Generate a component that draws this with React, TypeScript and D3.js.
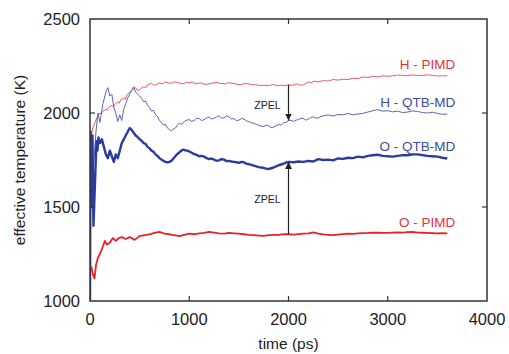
import React, { useEffect, useRef } from 'react';
import * as d3 from 'd3';

// [time (ps), effective temperature (K)]
const hPimd: [number, number][] = [
  [0, 1780], [10, 1850], [20, 1900], [35, 1930], [50, 1950], [70, 1975], [100, 2000], [115, 1995], [130, 2010],
  [160, 2020], [175, 2015], [190, 2030], [220, 2040], [235, 2032], [250, 2045], [280, 2060], [295, 2052], [310, 2070],
  [340, 2080], [355, 2072], [370, 2095], [400, 2110], [430, 2125], [460, 2135], [480, 2118], [500, 2125],
  [540, 2140], [560, 2134], [580, 2150], [620, 2158], [640, 2148], [660, 2150], [700, 2160], [730, 2155],
  [760, 2165], [790, 2160], [820, 2158], [850, 2166], [880, 2162], [910, 2158], [940, 2155], [970, 2163],
  [1000, 2160], [1030, 2165], [1060, 2155], [1090, 2158], [1120, 2160], [1160, 2152], [1200, 2155],
  [1240, 2160], [1280, 2162], [1320, 2157], [1360, 2155], [1400, 2161], [1440, 2158], [1480, 2153],
  [1520, 2150], [1560, 2157], [1600, 2155], [1640, 2150], [1680, 2150], [1720, 2146], [1760, 2148],
  [1800, 2145], [1840, 2152], [1880, 2146], [1920, 2148], [1960, 2145], [2000, 2150], [2040, 2147],
  [2080, 2155], [2120, 2148], [2150, 2150], [2200, 2165], [2230, 2162], [2260, 2170], [2300, 2166],
  [2350, 2172], [2400, 2170], [2450, 2178], [2500, 2175], [2550, 2180], [2600, 2178], [2650, 2185],
  [2700, 2183], [2750, 2192], [2800, 2189], [2850, 2195], [2900, 2192], [2950, 2198], [3000, 2195],
  [3050, 2198], [3100, 2202], [3150, 2200], [3200, 2198], [3250, 2203], [3300, 2199], [3350, 2200],
  [3400, 2203], [3450, 2200], [3500, 2197], [3550, 2198], [3600, 2198],
];

const hQtb: [number, number][] = [
  [0, 1850], [20, 1600], [40, 1750], [60, 1900], [80, 2000], [100, 1950], [130, 2050], [160, 2110],
  [180, 2135], [200, 2090], [220, 2100], [240, 2030], [260, 2000], [280, 1955], [300, 1990], [320, 1960],
  [340, 2020], [360, 2050], [380, 2080], [400, 2100], [420, 2120], [440, 2140], [460, 2110], [480, 2100],
  [500, 2090], [520, 2078], [540, 2060], [560, 2064], [580, 2040], [600, 2030], [620, 2010], [640, 2015],
  [660, 1990], [680, 1982], [700, 1960], [720, 1950], [740, 1935], [760, 1940], [780, 1920], [800, 1912],
  [820, 1905], [840, 1915], [860, 1920], [880, 1935], [900, 1945], [925, 1940], [950, 1955], [975, 1962],
  [1000, 1965], [1025, 1955], [1050, 1960], [1075, 1972], [1100, 1970], [1125, 1960], [1150, 1965],
  [1175, 1974], [1200, 1978], [1225, 1968], [1250, 1972], [1275, 1980], [1300, 1985], [1325, 1972],
  [1350, 1975], [1375, 1984], [1400, 1980], [1425, 1968], [1450, 1970], [1475, 1960], [1500, 1962],
  [1525, 1970], [1550, 1968], [1575, 1958], [1600, 1955], [1625, 1948], [1650, 1945], [1675, 1940],
  [1700, 1935], [1725, 1930], [1750, 1928], [1775, 1935], [1800, 1932], [1825, 1922], [1850, 1925],
  [1875, 1932], [1900, 1940], [1925, 1935], [1950, 1948], [1975, 1950], [2000, 1960], [2025, 1962],
  [2050, 1955], [2075, 1962], [2100, 1965], [2125, 1972], [2150, 1970], [2175, 1962], [2200, 1968],
  [2225, 1976], [2250, 1980], [2275, 1972], [2300, 1975], [2350, 1985], [2400, 1990], [2450, 1984],
  [2500, 1992], [2550, 1990], [2600, 1998], [2650, 1990], [2700, 1995], [2750, 1998], [2800, 2005],
  [2850, 2012], [2900, 2018], [2950, 2010], [3000, 2012], [3050, 2006], [3100, 2010], [3150, 2002],
  [3200, 2005], [3250, 2011], [3300, 2008], [3350, 2002], [3400, 2000], [3450, 2004], [3500, 1998],
  [3550, 1993], [3600, 1995],
];

const oQtb: [number, number][] = [
  [0, 1000], [5, 1900], [15, 1500], [25, 1880], [35, 1400], [45, 1550], [55, 1700], [65, 1850],
  [75, 1800], [85, 1870], [100, 1840], [120, 1860], [140, 1820], [160, 1780], [180, 1760], [200, 1800],
  [220, 1770], [240, 1740], [260, 1780], [280, 1760], [300, 1800], [320, 1840], [340, 1860], [360, 1880],
  [380, 1900], [400, 1920], [420, 1910], [440, 1895], [460, 1880], [480, 1872], [500, 1860], [520, 1852],
  [540, 1840], [560, 1836], [580, 1820], [600, 1812], [620, 1800], [640, 1794], [660, 1780], [680, 1772],
  [700, 1760], [720, 1752], [740, 1745], [760, 1740], [780, 1738], [800, 1740], [820, 1745], [840, 1758],
  [860, 1770], [880, 1782], [900, 1790], [920, 1800], [940, 1805], [960, 1802], [980, 1800],
  [1000, 1795], [1020, 1790], [1040, 1784], [1060, 1780], [1080, 1776], [1100, 1770], [1125, 1772],
  [1150, 1768], [1175, 1760], [1200, 1755], [1225, 1758], [1250, 1752], [1275, 1746], [1300, 1748],
  [1325, 1755], [1350, 1752], [1375, 1744], [1400, 1745], [1425, 1742], [1450, 1740], [1475, 1738],
  [1500, 1735], [1525, 1740], [1550, 1738], [1575, 1730], [1600, 1728], [1625, 1724], [1650, 1720],
  [1675, 1716], [1700, 1712], [1725, 1710], [1750, 1708], [1775, 1704], [1800, 1702], [1825, 1706],
  [1850, 1710], [1875, 1716], [1900, 1722], [1925, 1726], [1950, 1730], [1975, 1736], [2000, 1740],
  [2050, 1738], [2100, 1742], [2150, 1740], [2200, 1745], [2250, 1742], [2300, 1755], [2350, 1750],
  [2400, 1752], [2450, 1748], [2500, 1758], [2550, 1756], [2600, 1762], [2650, 1760], [2700, 1768],
  [2750, 1764], [2800, 1772], [2850, 1775], [2900, 1778], [2950, 1772], [3000, 1770], [3050, 1768],
  [3100, 1772], [3150, 1776], [3200, 1775], [3250, 1780], [3300, 1780], [3350, 1776], [3400, 1772],
  [3450, 1770], [3500, 1768], [3550, 1762], [3600, 1758],
];

const oPimd: [number, number][] = [
  [0, 1170], [15, 1180], [30, 1140], [45, 1120], [60, 1190], [80, 1230], [100, 1250], [130, 1290],
  [150, 1320], [170, 1300], [200, 1310], [230, 1335], [260, 1320], [290, 1335], [320, 1340], [360, 1330],
  [400, 1340], [450, 1325], [500, 1345], [550, 1350], [600, 1355], [650, 1362], [700, 1368], [750, 1358],
  [800, 1355], [850, 1350], [900, 1345], [950, 1352], [1000, 1358], [1050, 1355], [1100, 1360],
  [1150, 1362], [1200, 1368], [1250, 1364], [1300, 1360], [1350, 1358], [1400, 1362], [1450, 1360],
  [1500, 1358], [1550, 1355], [1600, 1352], [1650, 1350], [1700, 1348], [1750, 1346], [1800, 1350],
  [1850, 1352], [1900, 1352], [1950, 1356], [2000, 1355], [2050, 1353], [2100, 1356], [2150, 1358],
  [2200, 1360], [2250, 1365], [2300, 1358], [2350, 1354], [2400, 1352], [2450, 1350], [2500, 1353],
  [2550, 1356], [2600, 1358], [2650, 1357], [2700, 1360], [2750, 1361], [2800, 1362], [2850, 1364],
  [2900, 1363], [2950, 1362], [3000, 1362], [3050, 1364], [3100, 1365], [3150, 1364], [3200, 1366],
  [3250, 1367], [3300, 1364], [3350, 1363], [3400, 1362], [3450, 1361], [3500, 1360], [3550, 1361], [3600, 1360],
];

const xTicks = [0, 1000, 2000, 3000, 4000];
const yTicks = [1000, 1500, 2000, 2500];

const series = [
  { name: 'H - PIMD', data: hPimd, color: '#ec5a62', width: 1, labelT: 2260, labelColor: '#e8303a' },
  { name: 'H - QTB-MD', data: hQtb, color: '#5a66b4', width: 1, labelT: 2055, labelColor: '#3e4ca2' },
  { name: 'O - QTB-MD', data: oQtb, color: '#2b3c9c', width: 2.4, labelT: 1820, labelColor: '#3e4ca2' },
  { name: 'O - PIMD', data: oPimd, color: '#e42228', width: 1.8, labelT: 1420, labelColor: '#e8303a' },
];

// ZPEL arrows at t = 2000: [from, to]
const zpel = [
  { t: 2000, from: 2150, to: 1960, labelT: 2045 },
  { t: 2000, from: 1355, to: 1740, labelT: 1545 },
];

const W = 509;
const H = 354;
const M = { top: 19, right: 22, bottom: 53, left: 90 };
const FONT = 'Liberation Sans, Arial, Helvetica, sans-serif';

export default function App() {
  const svgRef = useRef<SVGSVGElement>(null);

  useEffect(() => {
    const svg = d3.select(svgRef.current);
    svg.selectAll('*').remove();

    const x = d3.scaleLinear().domain([0, 4000]).range([M.left, W - M.right]);
    const y = d3.scaleLinear().domain([1000, 2500]).range([H - M.bottom, M.top]);

    const defs = svg.append('defs');
    defs.append('clipPath').attr('id', 'plot')
      .append('rect')
      .attr('x', M.left).attr('y', M.top)
      .attr('width', W - M.left - M.right).attr('height', H - M.top - M.bottom);
    defs.append('marker')
      .attr('id', 'head')
      .attr('viewBox', '0 0 10 10')
      .attr('refX', 10).attr('refY', 5)
      .attr('markerWidth', 7).attr('markerHeight', 7)
      .attr('markerUnits', 'userSpaceOnUse')
      .attr('orient', 'auto')
      .append('path').attr('d', 'M0,0L10,5L0,10Z').attr('fill', '#222');

    const line = d3.line<[number, number]>().x((d) => x(d[0])).y((d) => y(d[1]));

    const g = svg.append('g').attr('clip-path', 'url(#plot)');
    g.selectAll('path')
      .data(series)
      .join('path')
      .attr('d', (d) => line(d.data))
      .attr('fill', 'none')
      .attr('stroke', (d) => d.color)
      .attr('stroke-width', (d) => d.width)
      .attr('stroke-linejoin', 'round');

    // arrows
    svg.selectAll('line.zpel')
      .data(zpel)
      .join('line')
      .attr('class', 'zpel')
      .attr('x1', (d) => x(d.t)).attr('x2', (d) => x(d.t))
      .attr('y1', (d) => y(d.from)).attr('y2', (d) => y(d.to))
      .attr('stroke', '#222').attr('stroke-width', 1.2)
      .attr('marker-end', 'url(#head)');
    svg.selectAll('text.zpel')
      .data(zpel)
      .join('text')
      .attr('class', 'zpel')
      .attr('x', (d) => x(d.t) - 8).attr('y', (d) => y(d.labelT))
      .attr('text-anchor', 'end')
      .attr('dominant-baseline', 'central')
      .attr('font-family', FONT).attr('font-size', 10.5)
      .attr('fill', '#222')
      .text('ZPEL');

    // series labels
    svg.selectAll('text.lab')
      .data(series)
      .join('text')
      .attr('class', 'lab')
      .attr('x', x(3680))
      .attr('y', (d) => y(d.labelT))
      .attr('text-anchor', 'end')
      .attr('dominant-baseline', 'central')
      .attr('font-family', FONT).attr('font-size', 13.5)
      .attr('fill', (d) => d.labelColor)
      .text((d) => d.name);

    // frame and ticks
    const axisColor = '#333';
    svg.append('rect')
      .attr('x', M.left).attr('y', M.top)
      .attr('width', W - M.left - M.right).attr('height', H - M.top - M.bottom)
      .attr('fill', 'none').attr('stroke', axisColor).attr('stroke-width', 1.5);

    const tl = 5;
    const ticks = svg.append('g').attr('stroke', axisColor).attr('stroke-width', 1.2);
    xTicks.slice(1, -1).forEach((t) => {
      ticks.append('line').attr('x1', x(t)).attr('x2', x(t)).attr('y1', y(1000)).attr('y2', y(1000) - tl);
      ticks.append('line').attr('x1', x(t)).attr('x2', x(t)).attr('y1', y(2500)).attr('y2', y(2500) + tl);
    });
    yTicks.slice(1, -1).forEach((v) => {
      ticks.append('line').attr('x1', x(0)).attr('x2', x(0) + tl).attr('y1', y(v)).attr('y2', y(v));
      ticks.append('line').attr('x1', x(4000)).attr('x2', x(4000) - tl).attr('y1', y(v)).attr('y2', y(v));
    });

    svg.append('g').selectAll('text')
      .data(xTicks)
      .join('text')
      .attr('x', (d) => x(d)).attr('y', y(1000) + 24)
      .attr('text-anchor', 'middle')
      .attr('font-family', FONT).attr('font-size', 16.5).attr('fill', '#222')
      .text((d) => d);
    svg.append('g').selectAll('text')
      .data(yTicks)
      .join('text')
      .attr('x', x(0) - 10).attr('y', (d) => y(d))
      .attr('text-anchor', 'end')
      .attr('dominant-baseline', 'central')
      .attr('font-family', FONT).attr('font-size', 16.5).attr('fill', '#222')
      .text((d) => d);

    svg.append('text')
      .attr('x', (M.left + W - M.right) / 2).attr('y', H - 5)
      .attr('text-anchor', 'middle')
      .attr('font-family', FONT).attr('font-size', 15.5).attr('fill', '#222')
      .text('time (ps)');
    svg.append('text')
      .attr('transform', `translate(25,${(M.top + H - M.bottom) / 2}) rotate(-90)`)
      .attr('text-anchor', 'middle')
      .attr('font-family', FONT).attr('font-size', 15.5).attr('fill', '#222')
      .text('effective temperature (K)');
  }, []);

  return (
    <svg
      ref={svgRef}
      width={W}
      height={H}
      style={{ position: 'absolute', left: 0, top: 0, background: '#fff' }}
    />
  );
}
